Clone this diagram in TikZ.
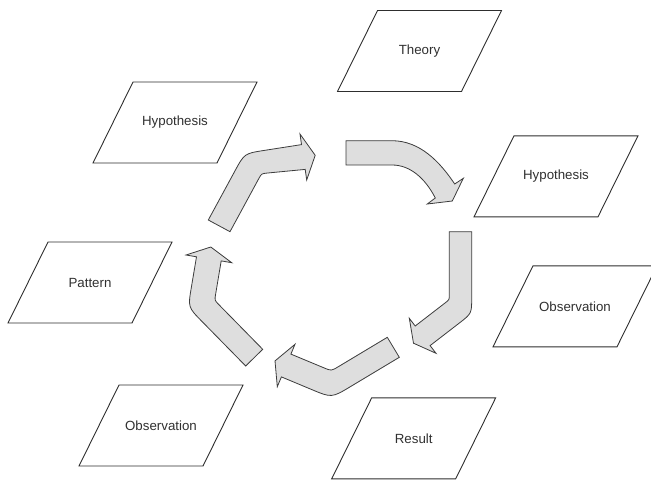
\documentclass[tikz,border=0pt]{standalone}
\usepackage{fontspec}
\setmainfont{Liberation Sans}
\usetikzlibrary{calc}

\definecolor{boxline}{HTML}{2E2E2E}
\definecolor{arrowfill}{HTML}{DEDEDE}
\definecolor{arrowline}{HTML}{3C3C3C}
\definecolor{labeltext}{HTML}{303030}

\tikzset{
  boxtext/.style={font=\fontsize{13.3}{15}\selectfont, text=labeltext, inner sep=0pt},
  boxedge/.style={draw=boxline, line width=0.9pt, line join=miter},
  blockarrow/.style={fill=arrowfill, draw=arrowline, line width=0.8pt, line join=miter},
}

% slanted box: name, centre, text
\newcommand\slantbox[3]{%
  \coordinate (#1c) at (#2);
  \draw[boxedge] ($(#1c)+(-42,-40.5)$) -- ++(124,0) -- ++(-40,81) -- ++(-124,0) -- cycle;
  \node[boxtext] (#1) at (#1c) {#3};
}

\begin{document}
\begin{tikzpicture}[x=1pt,y=-1pt]
\useasboundingbox (0,0) rectangle (651,482);
\clip (0,0) rectangle (651,482);

% the seven stages
\slantbox{theory}{419.5,51}{Theory}
\slantbox{hypoL}{175,122.5}{Hypothesis}
\slantbox{hypoR}{556,176.3}{Hypothesis}
\slantbox{obsR}{575,306.3}{Observation}
\slantbox{pattern}{90,282.5}{Pattern}
\slantbox{obsL}{161,425.5}{Observation}
\slantbox{result}{413.7,438.3}{Result}

% ---- arrow 1: up from the left, bending to the right
\coordinate (T1a) at (208.3,220);   \coordinate (T1b) at (230,231.7);
\coordinate (C1o) at (244.4,153.5); \coordinate (C1i) at (261.5,173.6);
\coordinate (E1o) at (301.5,144.6); \coordinate (E1i) at (305.2,169.4);
\coordinate (H1a) at (300,134);     \coordinate (H1b) at (306.7,180);
\coordinate (P1) at (315.2,155.3);
\filldraw[blockarrow] (T1a) -- ($(C1o)!20pt!(T1a)$) .. controls (C1o) .. ($(C1o)!20pt!(E1o)$)
  -- (E1o) -- (H1a) -- (P1) -- (H1b) -- (E1i)
  -- ($(C1i)!6pt!(E1i)$) .. controls (C1i) .. ($(C1i)!6pt!(T1b)$) -- (T1b) -- cycle;

% ---- arrow 2: right along the top, curving down
\coordinate (T2a) at (346,140.7);   \coordinate (T2b) at (346,165);
\coordinate (E2o) at (454.7,184);   \coordinate (E2i) at (435.3,198);
\coordinate (H2a) at (463.3,178.3); \coordinate (H2b) at (427.3,204);
\coordinate (P2) at (452.3,201);
\filldraw[blockarrow] (T2a) -- (392,140.7) .. controls (420,140.7) and (440,162) .. (E2o)
  -- (H2a) -- (P2) -- (H2b) -- (E2i)
  .. controls (425,178) and (410,165) .. (392,165) -- (T2b) -- cycle;

% ---- arrow 3: down the right side, bending down-left
\coordinate (T3a) at (449.3,231.7); \coordinate (T3b) at (471.7,231.7);
\coordinate (C3o) at (471.7,313.5); \coordinate (C3i) at (449.3,299.7);
\coordinate (E3o) at (430.1,345.6); \coordinate (E3i) at (415.2,326);
\coordinate (H3a) at (409.3,318.3); \coordinate (H3b) at (436,353.3);
\coordinate (P3) at (413.5,343.2);
\filldraw[blockarrow] (T3b) -- ($(C3o)!16pt!(T3b)$) .. controls (C3o) .. ($(C3o)!16pt!(E3o)$)
  -- (E3o) -- (H3b) -- (P3) -- (H3a) -- (E3i)
  -- ($(C3i)!5pt!(E3i)$) .. controls (C3i) .. ($(C3i)!5pt!(T3a)$) -- (T3a) -- cycle;

% ---- arrow 4: along the bottom, down-left then up-left
\coordinate (T4a) at (387.3,337.3); \coordinate (T4b) at (399.3,357.3);
\coordinate (C4i) at (331.3,370.9); \coordinate (C4o) at (331.7,397.9);
\coordinate (E4i) at (290.9,354.1); \coordinate (E4o) at (281.4,376.9);
\coordinate (H4a) at (295,344.3);   \coordinate (H4b) at (277.3,386.7);
\coordinate (P4) at (275,360.9);
\filldraw[blockarrow] (T4a) -- ($(C4i)!8pt!(T4a)$) .. controls (C4i) .. ($(C4i)!8pt!(E4i)$)
  -- (E4i) -- (H4a) -- (P4) -- (H4b) -- (E4o)
  -- ($(C4o)!22pt!(E4o)$) .. controls (C4o) .. ($(C4o)!22pt!(T4b)$) -- (T4b) -- cycle;

% ---- arrow 5: up-left on the left side, bending upward
\coordinate (T5a) at (245.7,366);   \coordinate (T5b) at (262.7,349.3);
\coordinate (C5o) at (188,307.2);   \coordinate (C5i) at (214.6,300.3);
\coordinate (E5o) at (196.5,256.8); \coordinate (E5i) at (221.2,260.9);
\coordinate (H5a) at (186,255);     \coordinate (H5b) at (231.7,262.7);
\coordinate (P5) at (210.8,247);
\filldraw[blockarrow] (T5a) -- ($(C5o)!20pt!(T5a)$) .. controls (C5o) .. ($(C5o)!20pt!(E5o)$)
  -- (E5o) -- (H5a) -- (P5) -- (H5b) -- (E5i)
  -- ($(C5i)!6pt!(E5i)$) .. controls (C5i) .. ($(C5i)!6pt!(T5b)$) -- (T5b) -- cycle;
\end{tikzpicture}
\end{document}
